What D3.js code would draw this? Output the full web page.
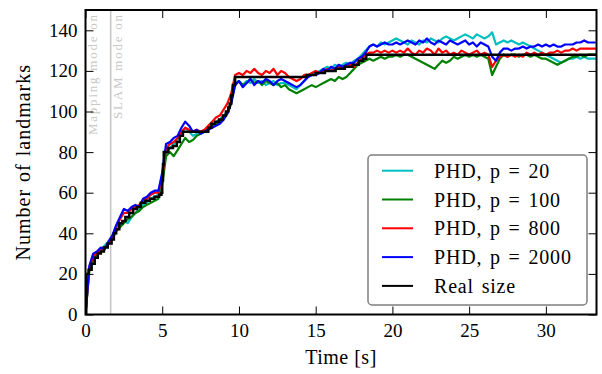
<!DOCTYPE html>
<html>
<head>
<meta charset="utf-8">
<script src="https://cdn.jsdelivr.net/npm/d3@7"></script>
<style>
body{margin:0;background:#fff}
text{font-family:"Liberation Serif","Times New Roman",serif}
</style>
</head>
<body>
<script>
const timeStep = 0.25
const seriesNames = ["PHD, p = 20","PHD, p = 100","PHD, p = 800","PHD, p = 2000"]
const seriesColors = ["#00bfbf","#008000","#ff0000","#0000ff"]

const phd20 = [
 0,22,28,30,32,34,36,37,42,44,46,45,48,50,52,54,55,57,58,59,
 66,80,82,84,86,89,92,90,88,89,90,90,92,93,95,96,98,100,105,114,
 115,113,115,114,116,114,115,113,114,115,113,114,114,113,112,111,113,115,117,118,
 119,120,121,122,121,123,122,123,124,123,125,126,128,130,132,133,132,134,133,134,
 135,136,135,134,133,135,134,133,135,134,136,135,134,136,137,136,135,136,137,138,
 137,136,138,137,136,137,139,133,134,135,134,135,134,133,134,133,132,131,130,129,
 128,127,126,125,124,125,126,126,127,126,127,126,126,126]
const phd100 = [
 0,22,27,30,32,33,35,37,41,43,45,47,48,50,51,53,54,55,56,57,
 64,78,80,78,81,84,87,85,86,88,89,90,91,93,94,95,97,99,105,113,
 115,113,114,116,114,115,113,115,114,113,114,112,113,111,110,109,110,111,112,113,
 112,113,114,115,116,115,117,116,117,119,121,123,124,125,126,125,126,127,126,127,
 127,128,127,128,128,127,126,125,124,123,122,121,123,125,124,125,127,126,127,128,
 127,128,127,128,127,126,118,122,126,128,127,128,128,127,128,128,127,128,127,126,
 126,125,124,123,124,125,126,127,127,128,127,128,128,128]
const phd800 = [
 0,23,29,30,32,33,35,38,43,47,50,50,52,53,54,56,57,59,60,60,
 68,82,84,85,87,90,92,91,90,91,90,91,93,95,97,98,101,104,109,118,
 119,118,120,119,121,119,118,120,119,121,118,120,119,117,116,115,116,118,118,119,
 120,119,120,121,120,121,122,121,122,123,122,124,126,128,129,129,130,129,130,129,
 130,129,130,129,131,129,128,130,129,131,130,128,131,129,130,128,129,128,130,129,
 128,129,130,128,129,128,122,125,127,128,127,128,127,128,127,129,128,129,128,129,
 128,129,129,130,129,130,130,131,130,131,131,131,131,131]
const phd2000 = [
 0,24,30,31,33,32,36,39,44,48,52,51,53,54,53,57,58,60,61,61,
 70,84,85,87,88,92,95,93,90,91,89,90,91,92,93,94,96,99,104,113,
 115,112,114,116,113,115,114,116,115,113,115,116,115,114,113,112,113,115,117,118,
 118,119,121,120,122,121,123,122,123,124,124,126,127,129,132,133,132,133,134,133,
 133,134,133,134,135,134,133,135,134,136,134,133,135,134,133,135,134,133,134,135,
 133,134,132,134,133,132,127,125,129,131,131,130,131,131,132,131,132,132,133,132,
 133,132,133,132,132,133,133,133,134,134,135,134,134,134]

const realTimes = [0,0.05,0.2,0.4,0.6,0.8,1.0,1.2,1.45,1.7,1.85,2.0,2.2,2.4,2.6,2.85,3.1,3.35,3.6,3.9,
 4.2,4.5,4.8,4.95,5.0,5.05,5.1,5.4,5.7,5.95,6.15,6.35,8.0,8.2,8.45,8.7,8.95,9.15,9.3,9.4,9.5,9.6,9.75,
 14.4,15.0,15.6,16.3,16.9,17.4,17.8,18.1,18.3,33.3]
const realValues = [0,20,22,25,28,30,31,33,35,37,40,42,45,46,48,50,52,53,55,56,
 57,58,59,60,66,74,80,82,83,85,88,90,92,94,95,96,98,100,102,104,108,113,117,
 118,119,120,121,122,123,125,126,128,128]

const xTicks = [0,5,10,15,20,25,30]
const yTicks = [0,20,40,60,80,100,120,140]
const slamStart = 1.64

const W = 602, H = 374
const m = {left:85.5, right:596.5, top:10, bottom:314.5}

const svg = d3.select("body").append("svg").attr("width",W).attr("height",H)
svg.append("rect").attr("width",W).attr("height",H).attr("fill","#fff")

const x = d3.scaleLinear().domain([0,33.3]).range([m.left,m.right])
const y = d3.scaleLinear().domain([0,150]).range([m.bottom,m.top])

svg.append("defs").append("clipPath").attr("id","plot")
  .append("rect").attr("x",m.left).attr("y",m.top)
  .attr("width",m.right-m.left).attr("height",m.bottom-m.top)

// mode switch marker
svg.append("line")
  .attr("x1",x(slamStart)).attr("x2",x(slamStart))
  .attr("y1",m.top).attr("y2",m.bottom)
  .attr("stroke","#c4c4c4").attr("stroke-width",1.5)

const notes = [{label:"Mapping mode on",dx:-14,len:120},{label:"SLAM mode on",dx:11.5,len:104}]
svg.selectAll(".note").data(notes).join("text").classed("note",true)
  .attr("transform",d=>`translate(${x(slamStart)+d.dx},${m.top+5}) rotate(-90)`)
  .attr("text-anchor","end")
  .attr("font-size",13)
  .attr("fill","#c8c8c8")
  .attr("textLength",d=>d.len)
  .attr("lengthAdjust","spacing")
  .text(d=>d.label)

const series = [phd20,phd100,phd800,phd2000].map((vals,i)=>({
  name:seriesNames[i], color:seriesColors[i],
  points:vals.map((v,j)=>({t:j*timeStep,v:v}))
}))

const line = d3.line().x(d=>x(d.t)).y(d=>y(d.v))
const lines = svg.append("g").attr("clip-path","url(#plot)")
lines.selectAll(".series").data(series).join("path").classed("series",true)
  .attr("d",d=>line(d.points))
  .attr("fill","none")
  .attr("stroke",d=>d.color)
  .attr("stroke-width",2.2)
  .attr("stroke-linejoin","round")

const real = realTimes.map((t,i)=>({t:t,v:realValues[i]}))
lines.append("path")
  .attr("d",d3.line().x(d=>x(d.t)).y(d=>y(d.v)).curve(d3.curveStepAfter)(real))
  .attr("fill","none").attr("stroke","#000").attr("stroke-width",2.5)

// axes, ticks inward on every side
const fs = 19
const axBottom = svg.append("g").attr("transform",`translate(0,${m.bottom})`)
  .call(d3.axisBottom(x).tickValues(xTicks).tickSizeInner(-8).tickSizeOuter(0).tickPadding(9).tickFormat(d3.format("d")))
const axTop = svg.append("g").attr("transform",`translate(0,${m.top})`)
  .call(d3.axisTop(x).tickValues(xTicks).tickSizeInner(-8).tickSizeOuter(0).tickFormat(""))
const axLeft = svg.append("g").attr("transform",`translate(${m.left},0)`)
  .call(d3.axisLeft(y).tickValues(yTicks).tickSizeInner(-8).tickSizeOuter(0).tickPadding(8).tickFormat(d3.format("d")))
const axRight = svg.append("g").attr("transform",`translate(${m.right},0)`)
  .call(d3.axisRight(y).tickValues(yTicks).tickSizeInner(-8).tickSizeOuter(0).tickFormat(""))
;[axBottom,axTop,axLeft,axRight].forEach(g=>{
  g.select(".domain").remove()
  g.selectAll(".tick line").attr("stroke","#000").attr("stroke-width",1)
  g.selectAll("text").attr("font-size",fs).attr("font-family","Liberation Serif").attr("fill","#000")
})

svg.append("rect")
  .attr("x",m.left).attr("y",m.top)
  .attr("width",m.right-m.left).attr("height",m.bottom-m.top)
  .attr("fill","none").attr("stroke","#000").attr("stroke-width",2)

svg.append("text").attr("x",(m.left+m.right)/2).attr("y",364)
  .attr("text-anchor","middle").attr("font-size",20)
  .attr("letter-spacing",0.5).text("Time [s]")
svg.append("text").attr("transform",`translate(30,${(m.top+m.bottom)/2}) rotate(-90)`)
  .attr("text-anchor","middle").attr("font-size",20)
  .attr("letter-spacing",1).attr("word-spacing",1).text("Number of landmarks")

// legend
const legendItems = series.map(s=>({name:s.name,color:s.color})).concat([{name:"Real size",color:"#000"}])
const legend = svg.append("g")
legend.append("rect").attr("x",368).attr("y",155).attr("width",219).attr("height",150)
  .attr("rx",4).attr("fill","#fff").attr("stroke","#7f7f7f").attr("stroke-width",1.5)
const items = legend.selectAll(".item").data(legendItems).join("g").classed("item",true)
  .attr("transform",(d,i)=>`translate(0,${170.7+i*28.8})`)
items.append("line").attr("x1",382).attr("x2",413)
  .attr("stroke",d=>d.color).attr("stroke-width",2)
items.append("text").attr("x",434).attr("dy","0.35em")
  .attr("font-size",20).attr("letter-spacing",0.8).attr("word-spacing",2).text(d=>d.name)
</script>
</body>
</html>
